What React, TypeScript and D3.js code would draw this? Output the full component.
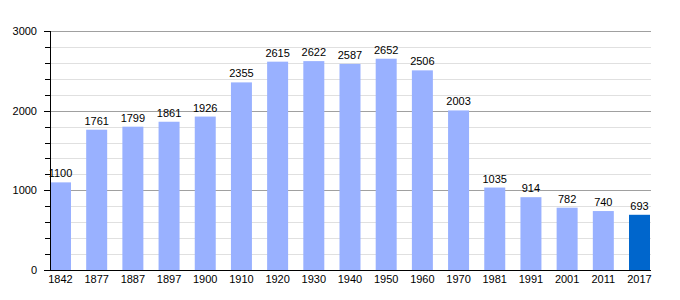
import React from "react";
import * as d3 from "d3";

const years = ["1842","1877","1887","1897","1900","1910","1920","1930","1940","1950","1960","1970","1981","1991","2001","2011","2017"];
const population = [1100,1761,1799,1861,1926,2355,2615,2622,2587,2652,2506,2003,1035,914,782,740,693];
const majorTicks = [0,1000,2000,3000];
const minorTicks = d3.range(0, 3001, 200).filter(v => v % 1000 !== 0);

export default function App() {
  const W = 680, H = 300;
  const x0 = 50, x1 = 650, yTop = 31, yBot = 270;
  const x = d3.scaleBand<string>().domain(years).range([x0, x1]).paddingInner(0.42).paddingOuter(0);
  const y = d3.scaleLinear().domain([0, 3000]).range([yBot, yTop]);
  const font = "'Liberation Sans', Arial, sans-serif";
  return (
    <svg width={W} height={H} style={{ position: "absolute", left: 0, top: 0 }} fontFamily={font}>
      <rect width={W} height={H} fill="#fff" />
      {minorTicks.map(v => (
        <g key={"m" + v}>
          <line x1={x0} x2={x1 + 1} y1={Math.round(y(v)) + 0.5} y2={Math.round(y(v)) + 0.5} stroke="#e0e0e0" />
          <line x1={x0 - 5} x2={x0} y1={Math.round(y(v)) + 0.5} y2={Math.round(y(v)) + 0.5} stroke="#000" />
        </g>
      ))}
      {majorTicks.filter(v => v > 0).map(v => (
        <line key={"M" + v} x1={x0} x2={x1 + 1} y1={Math.round(y(v)) + 0.5} y2={Math.round(y(v)) + 0.5} stroke="#a0a0a0" />
      ))}
      {majorTicks.map(v => (
        <g key={"t" + v}>
          <line x1={x0 - 6} x2={x0} y1={Math.round(y(v)) + 0.5} y2={Math.round(y(v)) + 0.5} stroke="#000" />
          <text x={37} y={y(v) + 4} fontSize={11} textAnchor="end" fill="#000">{v}</text>
        </g>
      ))}
      {years.map((yr, i) => {
        const bx = x(yr)!;
        const v = population[i];
        const last = i === years.length - 1;
        return (
          <g key={yr}>
            <rect x={bx} y={y(v)} width={x.bandwidth()} height={yBot - y(v)} fill={last ? "#0066cc" : "#99b1ff"} />
            <text x={bx + x.bandwidth() / 2} y={y(v) - 5} fontSize={11} textAnchor="middle" fill="#000">{v}</text>
            <text x={bx + x.bandwidth() / 2} y={283} fontSize={11} textAnchor="middle" fill="#000">{yr}</text>
          </g>
        );
      })}
      <line x1={x0 + 0.5} x2={x0 + 0.5} y1={yTop} y2={yBot + 1} stroke="#000" />
      <line x1={x0} x2={x1 + 1} y1={yBot + 0.5} y2={yBot + 0.5} stroke="#000" />
    </svg>
  );
}
